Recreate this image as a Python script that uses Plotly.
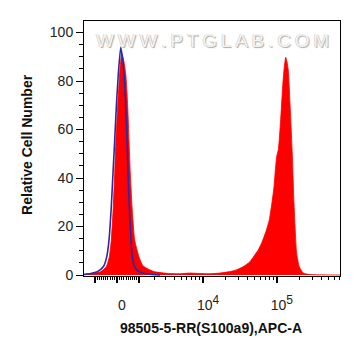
import numpy as np
import plotly.graph_objects as go

# ---- Biexponential-like display scale (asinh), display units = "decades"
C = 1380.0
def disp(v):
    return np.arcsinh(np.asarray(v, dtype=float) / C) / np.log(10)

# ---- Data (x in display units, y = relative cell number)
sample_x = [-0.446, -0.365, -0.311, -0.220, -0.145, -0.104, -0.077, -0.050, -0.031,
            -0.014, 0.009, 0.036, 0.064, 0.088, 0.118, 0.145, 0.162, 0.180, 0.203,
            0.239, 0.297, 0.345, 0.388, 0.500, 0.635, 0.716, 0.851, 0.986, 1.122,
            1.257, 1.392, 1.527, 1.622, 1.703, 1.797, 1.878, 1.909, 1.959, 2.014,
            2.058, 2.095, 2.122, 2.142, 2.158, 2.182, 2.212, 2.239, 2.257, 2.280,
            2.297, 2.315, 2.338, 2.369, 2.392, 2.428, 2.464, 2.518, 2.608, 3.014]
sample_y = [0.3, 0.5, 0.8, 1.4, 3.4, 7.5, 14.4, 28.2, 42.0,
            55.7, 69.4, 83.0, 91.4, 89.0, 83.0, 69.4, 55.7, 42.0, 28.2,
            14.4, 7.5, 4.0, 3.0, 1.4, 0.8, 0.6, 0.5, 0.8, 0.6,
            0.5, 0.8, 1.4, 2.2, 3.4, 5.5, 9.0, 10.3, 13.5, 18.0,
            22.7, 30.0, 36.4, 44.0, 48.8, 52.0, 64.0, 77.6, 84.5, 89.8,
            88.0, 84.5, 71.0, 50.0, 29.6, 9.0, 3.4, 0.8, 0.2, 0.0]

control_x = [-0.446, -0.355, -0.266, -0.185, -0.139, -0.108, -0.077, -0.054, -0.031,
             -0.009, 0.018, 0.050, 0.072, 0.095, 0.118, 0.135, 0.149, 0.166, 0.189,
             0.207, 0.239, 0.297, 0.388, 0.514, 0.581]
control_y = [0.2, 0.6, 1.4, 3.4, 7.5, 14.4, 28.2, 42.0, 55.7,
             69.4, 83.0, 93.9, 90.0, 83.0, 69.4, 55.7, 42.0, 28.2, 14.4,
             7.5, 3.4, 1.4, 0.5, 0.1, 0.0]

# ---- Axis ticks
x_label_vals = [0, 1e4, 1e5]
x_label_text = ["0",
                "10<sup><span style='font-size:12px'>4</span></sup>",
                "10<sup><span style='font-size:12px'>5</span></sup>"]
x_unlabeled_major_vals = [-1000, 1000]
x_minor_vals = ([-100 * k for k in range(1, 10)] + [100 * k for k in range(1, 10)] +
                [1000 * k for k in range(2, 10)] + [1e4 * k for k in range(2, 10)] +
                [1e5 * k for k in range(2, 8)])
y_major_vals = [0, 20, 40, 60, 80, 100]

x_title = "98505-5-RR(S100a9),APC-A"
y_title = "Relative Cell Number"
watermark = "WWW.PTGLAB.COM"

x_range = [-0.446, 3.014]
y_range = [-0.41, 104.74]

fig = go.Figure()
fig.add_trace(go.Scatter(
    x=sample_x, y=sample_y, mode="lines", fill="tozeroy",
    line=dict(color="#ff0000", width=0.8, shape="spline", smoothing=0.5),
    fillcolor="#ff0000", hoverinfo="skip", showlegend=False))
fig.add_trace(go.Scatter(
    x=control_x, y=control_y, mode="lines",
    line=dict(color="#2a2aa8", width=1.6, shape="spline", smoothing=0.5),
    hoverinfo="skip", showlegend=False))
# invisible helper trace so the overlay axis (unlabelled major ticks) is drawn
fig.add_trace(go.Scatter(x=[x_range[0]], y=[y_range[0]], xaxis="x2", mode="markers",
                         marker=dict(opacity=0), hoverinfo="skip", showlegend=False))

tick_font = dict(family="Liberation Sans, Arial, sans-serif", size=14, color="#222222")
title_font = dict(family="Liberation Sans, Arial, sans-serif", size=14, color="#111111")

# The page body has an 8px default margin: compensate so the plot area sits
# at x 84..340, y 21..276 in the 361x356 window.
fig.update_layout(
    width=353, height=348,
    margin=dict(l=76, r=21, t=13, b=80),
    paper_bgcolor="white", plot_bgcolor="white",
    xaxis=dict(
        range=x_range, showgrid=False, zeroline=False,
        showline=True, linecolor="black", linewidth=1, mirror=True,
        tickmode="array", tickvals=list(disp(x_label_vals)), ticktext=x_label_text,
        ticks="outside", ticklen=6, tickwidth=2, tickcolor="black",
        tickfont=tick_font, ticklabelstandoff=10, ticklabelshift=5,
        minor=dict(tickmode="array", tickvals=list(disp(x_minor_vals)),
                   ticks="outside", ticklen=3, tickwidth=1, tickcolor="black",
                   showgrid=False),
    ),
    xaxis2=dict(
        range=x_range, overlaying="x", side="bottom", showgrid=False,
        zeroline=False, showline=False, showticklabels=False,
        tickmode="array", tickvals=list(disp(x_unlabeled_major_vals)),
        ticks="outside", ticklen=6, tickwidth=2, tickcolor="black",
    ),
    yaxis=dict(
        range=y_range, showgrid=False, zeroline=False,
        showline=True, linecolor="black", linewidth=1, mirror=True,
        tickmode="array", tickvals=y_major_vals,
        ticks="outside", ticklen=7, tickwidth=1.2, tickcolor="black",
        tickfont=tick_font,
        minor=dict(dtick=5, tick0=0, ticks="outside", ticklen=4, tickwidth=1,
                   tickcolor="black", showgrid=False),
    ),
    annotations=[
        dict(text="<b>" + y_title + "</b>", xref="paper", yref="paper",
             x=-0.2227, y=0.518, textangle=-90, showarrow=False,
             font=title_font, xanchor="center", yanchor="middle"),
        dict(text="<b>" + x_title + "</b>", xref="paper", yref="paper",
             x=0.496, y=-0.204, showarrow=False, font=title_font,
             xanchor="center", yanchor="middle"),
        dict(text="\u2009".join(watermark), xref="paper", yref="paper",
             x=0.502, y=0.925, showarrow=False, xanchor="center", yanchor="middle",
             font=dict(family="Liberation Sans, Arial, sans-serif", size=19,
                       color="#f4f4f4",
                       shadow="1px 1px 1px #a8a8a8, -0.5px -0.5px 0.5px #c4c4c4")),
    ],
)

fig.write_html("out.html")
